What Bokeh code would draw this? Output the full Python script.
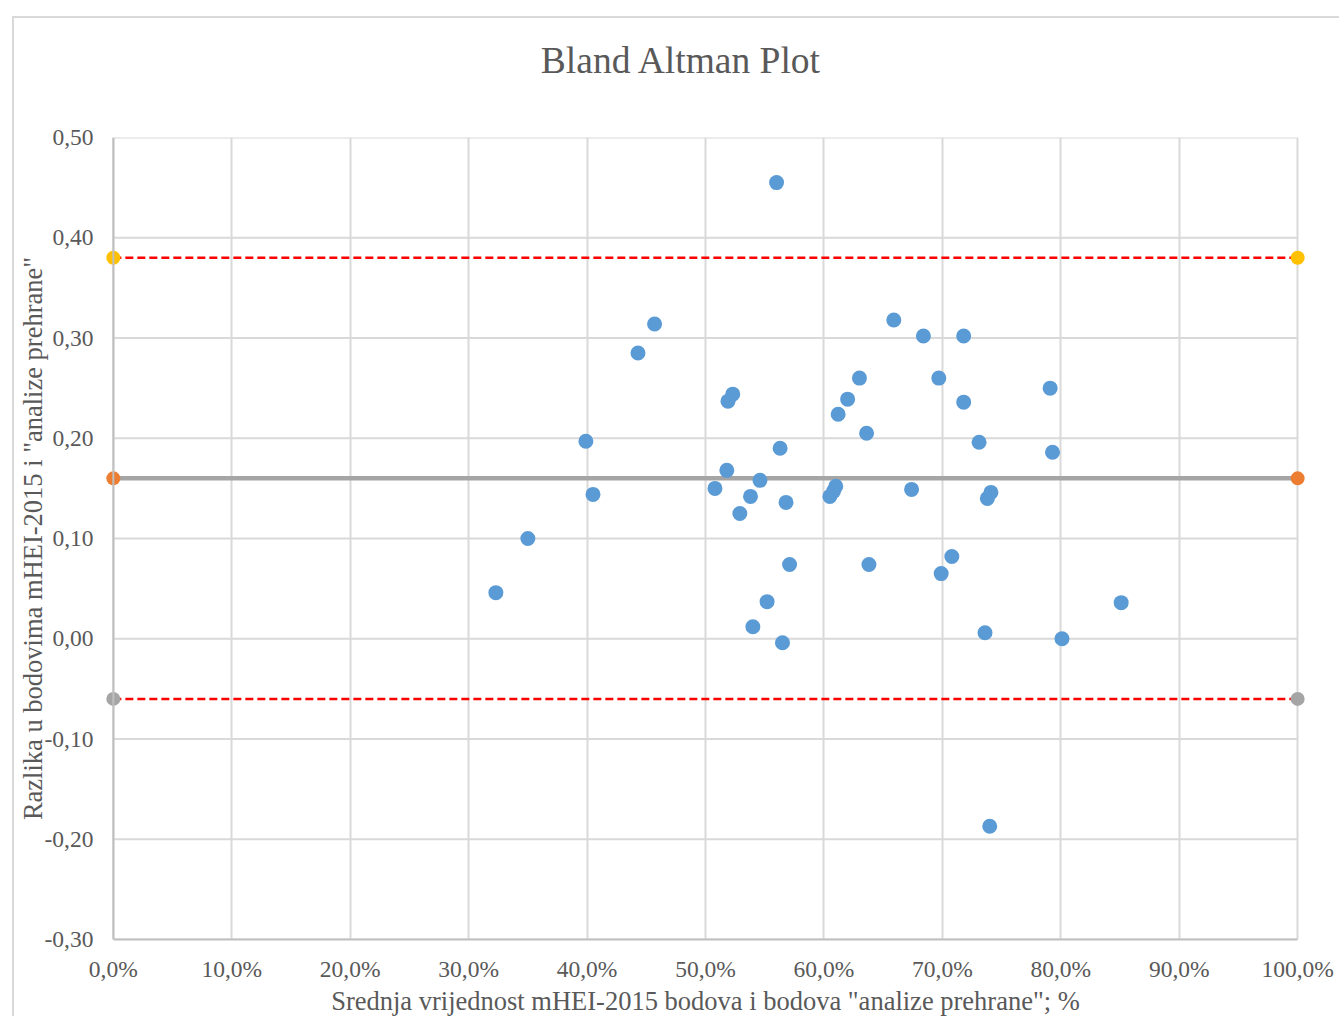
from bokeh.plotting import figure
from bokeh.models import Range1d, FixedTicker, CustomJSTickFormatter, Span, LinearAxis
from bokeh.embed import file_html
from bokeh.resources import INLINE

# ---- data ----
mean_pct = [56.0, 45.7, 44.3, 39.9, 40.5, 35.0, 32.3, 52.3, 51.9, 56.3, 51.8, 50.8, 54.6, 53.8, 52.9,
            56.8, 57.1, 55.2, 54.0, 56.5, 61.2, 62.0, 63.0, 63.6, 60.5, 60.8, 61.0, 63.8, 65.9, 68.4,
            71.8, 69.7, 71.8, 67.4, 73.1, 74.1, 73.8, 70.8, 69.9, 73.6, 74.0, 79.1, 79.3, 80.1, 85.1]
diff = [0.455, 0.314, 0.285, 0.197, 0.144, 0.100, 0.046, 0.244, 0.237, 0.190, 0.168, 0.150, 0.158, 0.142, 0.125,
        0.136, 0.074, 0.037, 0.012, -0.004, 0.224, 0.239, 0.260, 0.205, 0.142, 0.147, 0.152, 0.074, 0.318, 0.302,
        0.302, 0.260, 0.236, 0.149, 0.196, 0.146, 0.140, 0.082, 0.065, 0.006, -0.187, 0.250, 0.186, 0.000, 0.036]
limit_x = [0, 100]
upper_loa = [0.38, 0.38]
mean_diff = [0.16, 0.16]
lower_loa = [-0.06, -0.06]
x_ticks = [0, 10, 20, 30, 40, 50, 60, 70, 80, 90, 100]
y_ticks = [-0.3, -0.2, -0.1, 0.0, 0.1, 0.2, 0.3, 0.4, 0.5]
TITLE = "Bland Altman Plot"

# layout settings
FONT = "Liberation Serif"
TXT = "#595959"
GRID = "#D9D9D9"
TITLE_POS = 47.97  # horizontal centre of the chart title (chart-box centre), in x-axis units

p = figure(width=1327, height=1000, output_backend="svg", toolbar_location=None,
           x_range=Range1d(-1, 101), y_range=Range1d(-0.3, 0.5),
           min_border_left=87, min_border_right=32, min_border_top=119, min_border_bottom=78)
p.margin = (16, 0, 0, 12)
p.styles = {"border-left": "2px solid #D9D9D9", "border-top": "2px solid #D9D9D9"}
p.outline_line_color = None
p.background_fill_color = "white"
p.border_fill_color = "white"
p.title.visible = False

# chart title: a single label on a bare axis above the plot area, centred on the chart box
title_axis = LinearAxis(ticker=FixedTicker(ticks=[TITLE_POS]), major_label_overrides={TITLE_POS: TITLE},
                        axis_line_color=None, major_tick_out=0, major_tick_in=0, major_tick_line_color=None,
                        minor_tick_out=0, minor_tick_in=0, major_label_standoff=57,
                        major_label_text_font=FONT, major_label_text_font_size="37.5px",
                        major_label_text_color=TXT)
p.add_layout(title_axis, "above")

# grids
p.xgrid.ticker = FixedTicker(ticks=x_ticks)
p.xgrid.grid_line_color = GRID
p.xgrid.grid_line_width = 2
p.ygrid.grid_line_color = None
p.segment(x0=[x_ticks[0]] * len(y_ticks), x1=[x_ticks[-1]] * len(y_ticks), y0=y_ticks, y1=y_ticks,
          line_color=GRID, line_width=2)

# axes
xax = p.below[0]
yax = p.left[0]
xax.ticker = FixedTicker(ticks=x_ticks)
xax.bounds = (0, 100)
xax.formatter = CustomJSTickFormatter(code="return tick.toFixed(1).replace('.', ',') + '%';")
yax.ticker = FixedTicker(ticks=y_ticks)
yax.formatter = CustomJSTickFormatter(code="return (Math.abs(tick) < 1e-9 ? 0 : tick).toFixed(2).replace('.', ',');")
for ax in (xax, yax):
    ax.major_tick_out = 0
    ax.major_tick_in = 0
    ax.minor_tick_out = 0
    ax.minor_tick_in = 0
    ax.major_label_text_font = FONT
    ax.major_label_text_font_size = "23.5px"
    ax.major_label_text_color = TXT
    ax.axis_label_text_font = FONT
    ax.axis_label_text_font_size = "26.5px"
    ax.axis_label_text_font_style = "normal"
    ax.axis_label_text_color = TXT
xax.axis_line_color = "#BFBFBF"
xax.axis_line_width = 2
yax.axis_line_color = None
xax.major_label_standoff = 16
yax.major_label_standoff = 8
xax.axis_label = 'Srednja vrijednost mHEI-2015 bodova i bodova "analize prehrane"; %'
yax.axis_label = 'Razlika u bodovima mHEI-2015 i "analize prehrane"'
xax.axis_label_standoff = 1
yax.axis_label_standoff = -6

p.add_layout(Span(location=0, dimension="height", line_color="#BFBFBF", line_width=2))

# limit lines
p.line(limit_x, upper_loa, line_color="#FF0000", line_width=2.5, line_dash="8 4")
p.line(limit_x, lower_loa, line_color="#FF0000", line_width=2.5, line_dash="8 4")
p.line(limit_x, mean_diff, line_color="#A5A5A5", line_width=4.5)

# scatter
p.scatter(mean_pct, diff, size=15, fill_color="#5B9BD5", line_color=None)

# end markers
p.scatter(limit_x, upper_loa, size=14, fill_color="#FFC000", line_color=None)
p.scatter(limit_x, mean_diff, size=14, fill_color="#ED7D31", line_color=None)
p.scatter(limit_x, lower_loa, size=14, fill_color="#A5A5A5", line_color=None)

open("out.html", "w").write(file_html(p, INLINE))
